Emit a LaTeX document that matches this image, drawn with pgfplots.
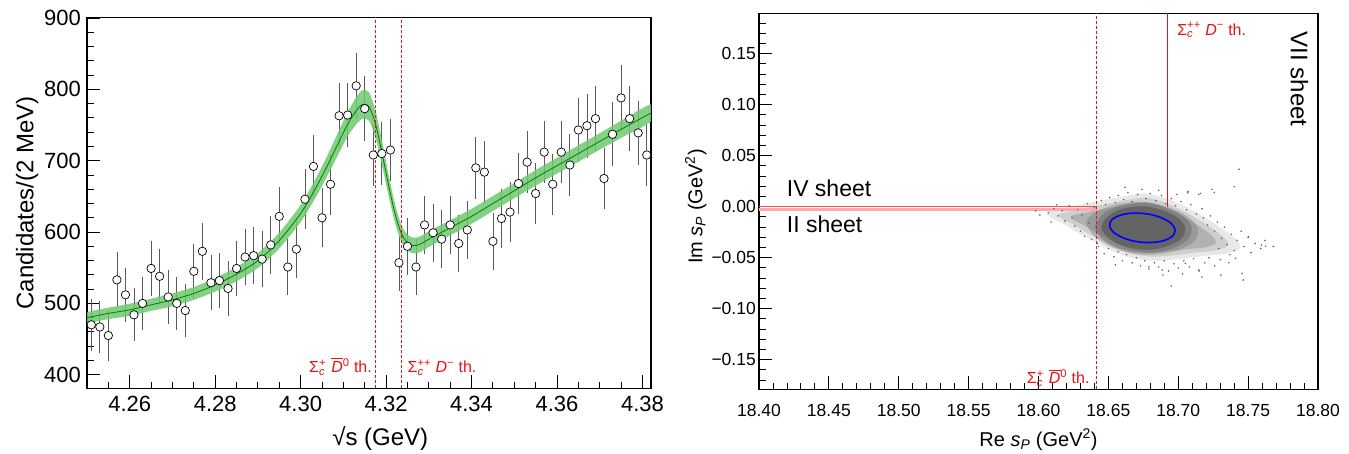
\documentclass[border=0pt]{standalone}
\usepackage{amsmath}
\usepackage{fontspec}
\setmainfont{Liberation Sans}
\usepackage{pgfplots}
\pgfplotsset{compat=1.18}

\definecolor{bandgreen}{RGB}{110,200,110}
\definecolor{linegreen}{RGB}{0,130,0}
\definecolor{bargray}{RGB}{90,90,90}
\definecolor{cloud}{RGB}{100,100,100}
\definecolor{cutred}{RGB}{240,80,80}
\definecolor{cutpink}{RGB}{255,170,170}
\definecolor{thred}{RGB}{228,20,20}
\definecolor{thdark}{RGB}{215,25,25}

\newcommand{\fs}[1]{\fontsize{#1}{#1}\selectfont}
\newcommand{\scp}{Σ\makebox[0pt][l]{\textsuperscript{+}}\textsubscript{\itshape c}\hspace{0.1em}}
\newcommand{\scpp}{Σ\makebox[0pt][l]{\textsubscript{\itshape c}}\textsuperscript{++}}
\newcommand{\dbar}{\makebox[0pt][l]{\rule[0.84em]{0.75em}{0.06em}}\textit{D}\textsuperscript{0}}
\newcommand{\dm}{\textit{D}\textsuperscript{−}}

\pgfplotsset{rootframe/.style={
  scale only axis, anchor=south west,
  axis line style={line width=1.1pt},
  tick align=inside, xtick pos=bottom, ytick pos=left,
  every tick/.style={black, line width=0.9pt},
  major tick length=13pt, minor tick length=6.5pt,
}}

% data points, 2 MeV bins
\pgfplotstableread{
x y e
4.251 470 32.5
4.253 467 32.4
4.255 455 32.0
4.257 533 34.6
4.259 512 33.9
4.261 484 33.0
4.263 500 33.5
4.265 549 35.1
4.267 538 34.8
4.269 509 33.8
4.271 500 33.5
4.273 490 33.2
4.275 545 35.0
4.277 573 35.9
4.279 529 34.5
4.281 532 34.6
4.283 521 34.2
4.285 549 35.1
4.287 565 35.7
4.289 567 35.7
4.291 562 35.6
4.293 582 36.2
4.295 622 37.4
4.297 551 35.2
4.299 576 36.0
4.301 646 38.1
4.303 692 39.5
4.305 620 37.3
4.307 667 38.7
4.309 763 41.4
4.311 764 41.5
4.313 805 42.6
4.315 773 41.7
4.317 708 39.9
4.319 710 40.0
4.321 715 40.1
4.323 557 35.4
4.325 580 36.1
4.327 551 35.2
4.329 610 37.0
4.331 599 36.7
4.333 590 36.4
4.335 610 37.0
4.337 584 36.2
4.339 603 36.8
4.341 690 39.4
4.343 684 39.2
4.345 587 36.3
4.347 619 37.3
4.349 628 37.6
4.351 668 38.8
4.353 698 39.6
4.355 654 38.4
4.357 712 40.0
4.359 667 38.7
4.361 712 40.0
4.363 694 39.5
4.365 743 40.9
4.367 749 41.1
4.369 759 41.3
4.371 675 39.0
4.373 737 40.7
4.375 788 42.1
4.377 759 41.3
4.379 739 40.8
4.381 708 39.9
}\datatab

% fit curve
\pgfplotstableread{
x c
4.250 480
4.255 486
4.260 491
4.265 498
4.270 505
4.275 514
4.280 526
4.285 541
4.290 560
4.295 588
4.300 626
4.303 656
4.306 690
4.309 727
4.311 751
4.313 770
4.3145 779
4.316 776
4.3175 752
4.319 712
4.3205 668
4.322 628
4.3235 599
4.325 585
4.3265 581
4.328 583
4.330 590
4.335 606
4.340 622
4.345 640
4.350 658
4.355 676
4.360 693
4.365 710
4.370 727
4.375 744
4.382 767
}\fittab

\begin{document}
\begin{tikzpicture}
\path (0pt,0pt) rectangle (1349pt,451pt);

\begin{axis}[rootframe, at={(87pt,62.7pt)}, width=564pt, height=371pt,
  xmin=4.25, xmax=4.382, ymin=381, ymax=901,
  xtick={4.26,4.28,4.30,4.32,4.34,4.36,4.38},
  xticklabels={4.26,4.28,4.30,4.32,4.34,4.36,4.38},
  minor xtick={4.255,4.265,4.270,4.275,4.285,4.290,4.295,4.305,4.310,4.315,4.325,4.330,4.335,4.345,4.350,4.355,4.365,4.370,4.375},
  ytick={400,500,600,700,800,900},
  yticklabels={400,500,600,700,800,900},
  minor y tick num=4,
  ticklabel style={font=\fs{22}},
  xticklabel style={inner sep=0pt, anchor=north, yshift=-8pt},
  yticklabel style={inner sep=0pt, anchor=east, xshift=-6pt},
  xlabel={√s (GeV)}, ylabel={Candidates/(2 MeV)},
  every axis x label/.style={at={(axis description cs:0.52,-0.153)}, anchor=base, font=\fs{24}},
  every axis y label/.style={at={(axis description cs:-0.106,0.5)}, rotate=90, anchor=center, font=\fs{24}},
]
\addplot[draw=none, mark=none,
  error bars/.cd, y dir=both, y explicit,
  error bar style={draw=bargray, solid, line width=0.8pt},
  error mark options={draw=bargray, line width=0.8pt, mark size=2.8pt}]
  table[x=x, y=y, y error=e] {\datatab};
% fit uncertainty band: upper edge, then lower edge backwards
\addplot[fill=bandgreen, draw=none, fill opacity=0.85, smooth, tension=0.4] coordinates {
(4.250,488) (4.255,494) (4.260,499.5) (4.265,506.5) (4.270,514) (4.275,523) (4.280,535.5)
(4.285,551) (4.290,570.5) (4.295,599) (4.300,638) (4.303,669) (4.306,704) (4.309,743)
(4.311,768) (4.313,789) (4.3145,799) (4.316,796) (4.3175,771) (4.319,729) (4.3205,683)
(4.322,641) (4.3235,611) (4.325,596) (4.3265,592) (4.328,594) (4.330,601) (4.335,616.5)
(4.340,632.5) (4.345,650.5) (4.350,668.5) (4.355,687) (4.360,704) (4.365,721.5) (4.370,738.5)
(4.375,756) (4.382,779)
(4.382,755) (4.375,732) (4.370,715.5) (4.365,698.5) (4.360,682) (4.355,665) (4.350,647.5)
(4.345,629.5) (4.340,611.5) (4.335,595.5) (4.330,579) (4.328,572) (4.3265,570) (4.325,574)
(4.3235,587) (4.322,615) (4.3205,653) (4.319,695) (4.3175,733) (4.316,756) (4.3145,759)
(4.313,751) (4.311,734) (4.309,711) (4.306,676) (4.303,643) (4.300,614) (4.295,577)
(4.290,549.5) (4.285,531) (4.280,516.5) (4.275,505) (4.270,496) (4.265,489.5) (4.260,482.5)
(4.255,478) (4.250,472)};
\addplot[draw=linegreen, line width=0.8pt, smooth] table[x=x, y=c] {\fittab};
\addplot[only marks, mark=*, mark size=4.2pt, mark options={fill=white, draw=black, line width=0.7pt}]
  table[x=x, y=y] {\datatab};
% thresholds
\addplot[draw=thdark, dash pattern=on 3pt off 2pt, line width=0.9pt] coordinates {(4.3176,381) (4.3176,901)};
\addplot[draw=thdark, dash pattern=on 3pt off 2pt, line width=0.9pt] coordinates {(4.3237,381) (4.3237,901)};
\node[anchor=base east, text=thred, font=\fs{16}, inner sep=0pt] at (axis cs:4.3167,403) {\scp\ \dbar\ th.};
\node[anchor=base west, text=thred, font=\fs{16}, inner sep=0pt] at (axis cs:4.3250,403) {\scpp\ \dm\ th.};
\end{axis}

\begin{axis}[rootframe, at={(759pt,61.7pt)}, width=559pt, height=376pt,
  xmin=18.40, xmax=18.80, ymin=-0.179, ymax=0.1896,
  xtick={18.40,18.45,18.50,18.55,18.60,18.65,18.70,18.75,18.80},
  xticklabels={18.40,18.45,18.50,18.55,18.60,18.65,18.70,18.75,18.80},
  minor x tick num=4,
  ytick={-0.15,-0.10,-0.05,0,0.05,0.10,0.15},
  yticklabels={−0.15,−0.10,−0.05,0.00,0.05,0.10,0.15},
  minor ytick={-0.17,-0.16,-0.14,-0.13,-0.12,-0.11,-0.09,-0.08,-0.07,-0.06,-0.04,-0.03,-0.02,-0.01,0.01,0.02,0.03,0.04,0.06,0.07,0.08,0.09,0.11,0.12,0.13,0.14,0.16,0.17,0.18},
  ticklabel style={font=\fs{17.5}},
  xticklabel style={inner sep=0pt, anchor=north, yshift=-14.5pt},
  yticklabel style={inner sep=0pt, anchor=east, xshift=-3pt},
  xlabel={Re \textit{s}\textsubscript{\textit{P}} (GeV\textsuperscript{2})},
  ylabel={Im \textit{s}\textsubscript{\textit{P}} (GeV\textsuperscript{2})},
  every axis x label/.style={at={(axis description cs:0.5,-0.151)}, anchor=base, font=\fs{20}},
  every axis y label/.style={at={(axis description cs:-0.113,0.486)}, rotate=90, anchor=center, font=\fs{20}},
]
% pole positions: density layers of the cloud, then sparse points
\addplot[fill=cloud, draw=none, fill opacity=0.15, smooth cycle] coordinates {
(18.606,-0.005) (18.616,-0.002) (18.630,0.002) (18.645,0.006) (18.660,0.010) (18.677,0.013)
(18.692,0.008) (18.702,0.002) (18.712,-0.005) (18.722,-0.013) (18.732,-0.022) (18.742,-0.033)
(18.744,-0.041) (18.734,-0.046) (18.720,-0.048) (18.702,-0.051) (18.684,-0.053) (18.666,-0.050)
(18.652,-0.043) (18.640,-0.034) (18.630,-0.027) (18.618,-0.017) (18.608,-0.010)};
\addplot[fill=cloud, draw=none, fill opacity=0.2, smooth cycle] coordinates {
(18.6150,-0.0070) (18.6240,-0.0045) (18.6356,-0.0008) (18.6488,0.0026) (18.6620,0.0062)
(18.6768,0.0088) (18.6899,0.0044) (18.6986,-0.0009) (18.7074,-0.0070) (18.7161,-0.0140)
(18.7249,-0.0219) (18.7336,-0.0315) (18.7354,-0.0385) (18.7266,-0.0429) (18.7144,-0.0446)
(18.6986,-0.0473) (18.6829,-0.0490) (18.6671,-0.0464) (18.6549,-0.0403) (18.6444,-0.0324)
(18.6356,-0.0263) (18.6251,-0.0175) (18.6164,-0.0114)};
\addplot[fill=cloud, draw=none, fill opacity=0.28, smooth cycle] coordinates {
(18.6232,-0.0090) (18.6308,-0.0067) (18.6412,-0.0038) (18.6525,-0.0008) (18.6638,0.0023)
(18.6765,0.0045) (18.6877,0.0008) (18.6952,-0.0038) (18.7028,-0.0090) (18.7102,-0.0150)
(18.7178,-0.0218) (18.7252,-0.0300) (18.7268,-0.0360) (18.7192,-0.0398) (18.7088,-0.0413)
(18.6952,-0.0435) (18.6818,-0.0450) (18.6682,-0.0428) (18.6578,-0.0375) (18.6488,-0.0308)
(18.6412,-0.0255) (18.6322,-0.0180) (18.6248,-0.0128)};
\addplot[fill=cloud, draw=none, fill opacity=0.3, smooth cycle] coordinates {
(18.6340,-0.0150) (18.6400,-0.0060) (18.6520,0.0010) (18.6660,0.0045) (18.6800,0.0040)
(18.6940,-0.0010) (18.7065,-0.0095) (18.7140,-0.0205) (18.7120,-0.0330) (18.7000,-0.0425)
(18.6830,-0.0470) (18.6660,-0.0455) (18.6510,-0.0390) (18.6400,-0.0290)};
\addplot[fill=cloud, draw=none, fill opacity=0.45, smooth cycle] coordinates {
(18.6405,-0.0187) (18.6462,-0.0072) (18.6554,-0.0003) (18.6669,0.0032) (18.6796,0.0032)
(18.6923,-0.0014) (18.7038,-0.0095) (18.7095,-0.0198) (18.7072,-0.0314) (18.6969,-0.0406)
(18.6819,-0.0452) (18.6669,-0.0440) (18.6531,-0.0383) (18.6439,-0.0291)};
\addplot[fill=cloud, draw=none, smooth cycle] coordinates {
(18.645,-0.019) (18.650,-0.009) (18.658,-0.003) (18.668,0.000) (18.679,0.000) (18.690,-0.004)
(18.700,-0.011) (18.705,-0.020) (18.703,-0.030) (18.694,-0.038) (18.681,-0.042) (18.668,-0.041)
(18.656,-0.036) (18.648,-0.028)};
\addplot[only marks, mark=*, mark size=0.55pt, color=cloud] coordinates {
(18.607,-0.006) (18.611,-0.002) (18.614,-0.009) (18.617,-0.004) (18.619,-0.014) (18.622,0.001)
(18.624,-0.011) (18.626,-0.019) (18.628,-0.003) (18.630,-0.024) (18.631,-0.008) (18.633,-0.029)
(18.635,0.003) (18.636,-0.016) (18.638,-0.032) (18.640,-0.001) (18.642,-0.036) (18.598,-0.004)
(18.601,-0.008) (18.609,-0.015) (18.613,0.002)
(18.645,0.006) (18.648,0.002) (18.651,0.009) (18.655,0.004) (18.657,0.011) (18.661,0.007)
(18.664,0.014) (18.667,0.005) (18.671,0.012) (18.674,0.017) (18.677,0.008) (18.680,0.013)
(18.684,0.006) (18.688,0.011) (18.691,0.003) (18.695,0.008) (18.698,0.001) (18.702,0.005)
(18.706,-0.003) (18.709,0.002) (18.713,-0.007) (18.717,-0.002) (18.662,0.019) (18.686,0.016)
(18.699,0.012) (18.716,0.013) (18.707,0.015) (18.724,0.017)
(18.718,-0.011) (18.721,-0.018) (18.723,-0.009) (18.726,-0.024) (18.728,-0.015) (18.731,-0.031)
(18.733,-0.020) (18.735,-0.037) (18.738,-0.027) (18.740,-0.043) (18.742,-0.033) (18.745,-0.024)
(18.747,-0.039) (18.750,-0.030) (18.752,-0.045) (18.755,-0.036) (18.759,-0.041) (18.762,-0.033)
(18.768,-0.039) (18.729,-0.041) (18.737,-0.047)
(18.643,-0.039) (18.647,-0.046) (18.650,-0.041) (18.654,-0.049) (18.657,-0.044) (18.660,-0.053)
(18.663,-0.047) (18.667,-0.055) (18.670,-0.050) (18.673,-0.058) (18.676,-0.053) (18.679,-0.061)
(18.683,-0.055) (18.686,-0.059) (18.690,-0.053) (18.693,-0.063) (18.697,-0.056) (18.700,-0.060)
(18.704,-0.053) (18.708,-0.059) (18.711,-0.051) (18.715,-0.063) (18.719,-0.055) (18.722,-0.050)
(18.726,-0.058) (18.730,-0.052) (18.655,-0.057) (18.689,-0.067) (18.703,-0.066) (18.717,-0.069)
(18.7435,0.0367) (18.7400,0.0196) (18.7258,0.0140) (18.7147,0.0121) (18.7068,0.0137)
(18.7457,-0.0653) (18.7465,-0.0719) (18.7305,-0.0670) (18.6950,-0.0778) (18.7362,-0.0549)
(18.7626,-0.0386) (18.7595,-0.0376) (18.7503,-0.0294) (18.7409,-0.0506) (18.7147,-0.0620)
(18.7051,-0.0556) (18.6885,-0.0620) (18.6790,-0.0588)
};
\addplot[draw=blue, line width=1.6pt, smooth cycle] coordinates {
(18.6977,-0.0235) (18.6969,-0.0197) (18.6946,-0.0160) (18.6908,-0.0127) (18.6860,-0.0098)
(18.6804,-0.0077) (18.6743,-0.0065) (18.6682,-0.0063) (18.6626,-0.0070) (18.6578,-0.0087)
(18.6540,-0.0112) (18.6517,-0.0143) (18.6509,-0.0179) (18.6517,-0.0217) (18.6540,-0.0254)
(18.6578,-0.0287) (18.6626,-0.0316) (18.6682,-0.0337) (18.6743,-0.0349) (18.6804,-0.0351)
(18.6860,-0.0344) (18.6908,-0.0327) (18.6946,-0.0302) (18.6969,-0.0271)};
% thresholds and cut
\addplot[draw=cutpink, line width=3pt] coordinates {(18.40,-0.0025) (18.6416,-0.0025)};
\addplot[draw=cutred, line width=1.4pt] coordinates {(18.40,0.0003) (18.6416,0.0003)};
\addplot[draw=thdark, dash pattern=on 3pt off 2pt, line width=0.9pt] coordinates {(18.6416,-0.179) (18.6416,0.1896)};
\addplot[draw=thdark, line width=0.9pt] coordinates {(18.6925,0) (18.6925,0.1896)};
\node[anchor=base west, font=\fs{23}, inner sep=0pt] at (axis cs:18.4198,0.0098) {IV sheet};
\node[anchor=base west, font=\fs{23}, inner sep=0pt] at (axis cs:18.4198,-0.0255) {II sheet};
\node[anchor=base west, rotate=-90, font=\fs{24}, inner sep=0pt] at (axis cs:18.7805,0.1716) {VII sheet};
\node[anchor=base west, text=thred, font=\fs{16}, inner sep=0pt] at (axis cs:18.6992,0.1683) {\scpp\ \dm\ th.};
\node[anchor=base east, text=thred, font=\fs{16}, inner sep=0pt] at (axis cs:18.6366,-0.1738) {\scp\ \dbar\ th.};
\end{axis}
\end{tikzpicture}
\end{document}
